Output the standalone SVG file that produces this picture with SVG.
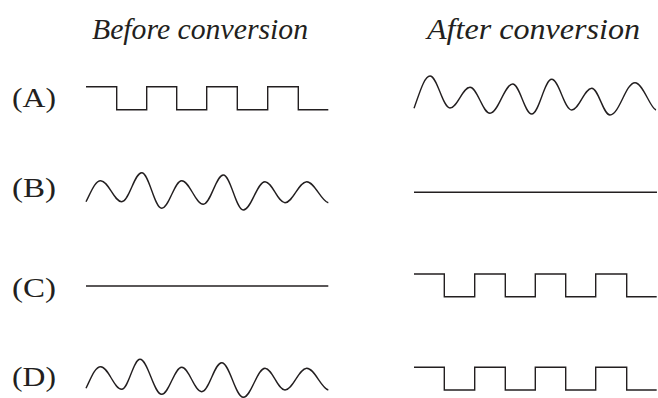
<svg xmlns="http://www.w3.org/2000/svg" width="658" height="398" viewBox="0 0 658 398">
<style>
text{font-family:'Liberation Serif','LiberationSerif','Times New Roman',Tinos,'Nimbus Roman','Nimbus Roman No9 L',FreeSerif,'DejaVu Serif',serif;fill:#231f20}
.h{font-style:italic;font-size:30px}
.l{font-size:28px}
.w{fill:none;stroke:#231f20;stroke-width:1.4;stroke-linejoin:miter}
</style>
<rect width="658" height="398" fill="#fff"/>
<g id="titles">
<text class="h" x="92" y="39" textLength="216" lengthAdjust="spacingAndGlyphs">Before conversion</text>
<text class="h" x="427" y="39" textLength="213" lengthAdjust="spacingAndGlyphs">After conversion</text>
</g>
<g id="rowA">
<text class="l" x="12" y="107" textLength="44" lengthAdjust="spacingAndGlyphs">(A)</text>
<path class="w" d="M86,86.7 H116.7 V109.7 H146.7 V86.7 H176.7 V109.7 H206.7 V86.7 H237.3 V109.7 H267.7 V86.7 H298.3 V109.7 H328.3"/>
<path class="w" d="M414,108.3 C419,95 424,76 430,76 C437.4,76 442.6,108 450,108 C457.4,108 462.6,87.3 470,87.3 C477.4,87.3 482.6,113.3 490,113.3 C498.4,113.3 504.3,84 512.7,84 C519.7,84 524.7,114 531.7,114 C539.1,114 544.3,79.3 551.7,79.3 C559.1,79.3 564.3,110 571.7,110 C579.1,110 584.3,88.3 591.7,88.3 C598.5,88.3 603.2,115 610,115 C619.3,115 625.8,82.7 635,82.7 C643,82.7 650,108 656,110"/>
</g>
<g id="rowB">
<text class="l" x="12" y="197" textLength="44" lengthAdjust="spacingAndGlyphs">(B)</text>
<path class="w" d="M86,201.7 C91,192 95,180.7 100.7,180.7 C108.5,180.7 113.9,201.7 121.7,201.7 C129.1,201.7 134.3,172.7 141.7,172.7 C149.1,172.7 154.3,208.3 161.7,208.3 C169.1,208.3 174.3,180.7 181.7,180.7 C189.7,180.7 195.3,204.3 203.3,204.3 C210.7,204.3 215.9,175 223.3,175 C230.7,175 235.9,210 243.3,210 C251.3,210 257,181.7 265,181.7 C272.4,181.7 277.6,202.7 285,202.7 C293,202.7 298.7,181.7 306.7,181.7 C314.7,181.7 321,201 328.3,202.7"/>
<path class="w" d="M414,192.3 H657"/>
</g>
<g id="rowC">
<text class="l" x="12" y="297" textLength="44" lengthAdjust="spacingAndGlyphs">(C)</text>
<path class="w" d="M86,286 H328.3"/>
<path class="w" d="M414,274 H444.3 V296.7 H474.7 V274 H505.3 V296.7 H535.3 V274 H565.7 V296.7 H595.7 V274 H626.7 V296.7 H656.7"/>
</g>
<g id="rowD">
<text class="l" x="12" y="386" textLength="44" lengthAdjust="spacingAndGlyphs">(D)</text>
<path class="w" d="M86,388.3 C91,378 95,366.7 100.7,366.7 C108.5,366.7 113.9,389.3 121.7,389.3 C128.5,389.3 133.2,359.3 140,359.3 C148,359.3 153.7,394.3 161.7,394.3 C169.1,394.3 174.3,367.3 181.7,367.3 C189.1,367.3 194.3,391.7 201.7,391.7 C209.1,391.7 214.3,362.7 221.7,362.7 C229.7,362.7 235.3,397.3 243.3,397.3 C251.3,397.3 257,368.3 265,368.3 C272.4,368.3 277.6,390 285,390 C293,390 298.7,368.3 306.7,368.3 C314.7,368.3 321,388 328.3,390"/>
<path class="w" d="M414,367.3 H444.3 V390 H474.7 V367.3 H505.3 V390 H535.3 V367.3 H565.7 V390 H595.7 V367.3 H626.7 V390 H656.7"/>
</g>
</svg>
